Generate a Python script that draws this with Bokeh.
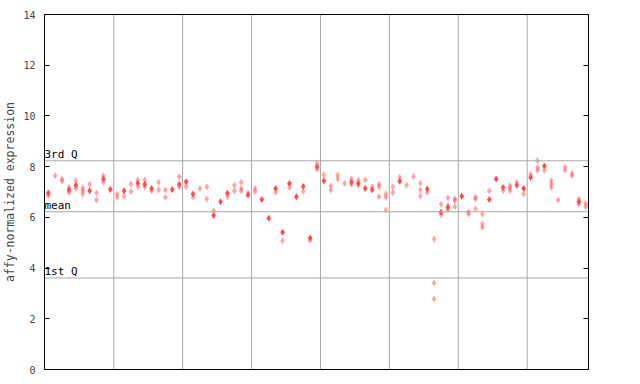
from bokeh.plotting import figure
from bokeh.models import Range1d, LinearAxis, FixedTicker, Span, Label
from bokeh.embed import file_html
from bokeh.resources import INLINE

# Sample index (column) and expression values: solid markers
solid_x = [0, 3, 4, 6, 8, 9, 11, 13, 14, 15, 18, 19, 20, 21, 24, 25, 26, 29, 31, 32,
           33, 34, 35, 36, 37, 38, 39, 40, 44, 45, 46, 47, 51, 55, 57, 58, 60, 64, 65,
           66, 68, 69, 70, 72, 77]
solid_y = [6.96, 7.09, 7.27, 7.05, 7.51, 7.10, 7.05, 7.35, 7.31, 7.14, 7.10, 7.31, 7.40,
           6.92, 6.07, 6.62, 6.95, 6.88, 6.70, 5.96, 7.14, 5.41, 7.34, 6.81, 7.22, 5.19,
           8.00, 7.44, 7.38, 7.35, 7.14, 7.09, 7.42, 7.12, 6.20, 6.39, 6.83, 6.70, 7.51,
           7.18, 7.27, 7.14, 7.57, 8.03, 6.62]

# Light (dithered) markers
light_x = [0, 1, 2, 2, 3, 3, 4, 4, 5, 5, 5, 6, 7, 7, 8, 8, 10, 10, 11, 12, 12, 13, 13,
           14, 14, 15, 16, 16, 17, 17, 19, 19, 20, 21, 22, 23, 23, 24, 26, 27, 27, 28,
           28, 28, 29, 30, 30, 33, 34, 35, 37, 38, 39, 39, 40, 41, 41, 42, 42, 43, 44,
           44, 45, 45, 46, 47, 48, 48, 48, 49, 49, 49, 50, 50, 51, 52, 53, 54, 54, 54,
           55, 56, 56, 56, 57, 57, 58, 58, 58, 59, 59, 59, 61, 61, 62, 62, 62, 63, 63,
           63, 64, 66, 67, 67, 67, 68, 69, 70, 71, 71, 71, 72, 73, 73, 73, 74, 75, 75,
           76, 76, 77, 77, 78, 78]
light_y = [6.85, 7.64, 7.51, 7.42, 7.18, 6.99, 7.44, 7.14, 7.16, 7.05, 6.92, 7.31, 6.96,
           6.68, 7.64, 7.38, 6.92, 6.79, 6.83, 7.31, 7.02, 7.47, 7.21, 7.47, 7.21, 7.05,
           7.38, 7.08, 7.08, 6.79, 7.60, 7.21, 7.21, 6.79, 7.14, 7.21, 6.72, 6.26, 6.81,
           7.27, 7.05, 7.38, 7.14, 7.05, 6.96, 7.14, 7.02, 6.98, 5.08, 7.18, 7.02, 5.10,
           8.13, 7.90, 7.67, 7.25, 7.08, 7.67, 7.51, 7.35, 7.51, 7.31, 7.47, 7.27, 7.47,
           7.21, 7.31, 7.21, 6.81, 6.92, 6.79, 6.29, 7.21, 6.98, 7.57, 7.27, 7.60, 7.35,
           7.08, 6.84, 6.98, 5.15, 3.41, 2.78, 6.52, 6.10, 6.76, 6.46, 6.30, 6.72, 6.66,
           6.42, 6.22, 6.13, 6.79, 6.72, 6.33, 6.13, 5.74, 5.60, 7.05, 7.05, 7.25, 7.16,
           7.05, 7.38, 6.92, 7.70, 8.23, 7.97, 7.86, 7.86, 7.44, 7.31, 7.18, 6.68, 7.99,
           7.86, 7.73, 7.64, 6.72, 6.52, 6.55, 6.42]

# Group separators (between sample groups)
group_breaks = [9.5, 19.5, 29.5, 39.5, 49.5, 59.5, 69.5]

# Reference levels
ref_names = ["3rd Q", "mean", "1st Q"]
ref_values = [8.23, 6.22, 3.61]

y_ticks = [0, 2, 4, 6, 8, 10, 12, 14]

FONT = "DejaVu Sans Mono"
RED = "#ff4d4d"
GRID = "#a8a8a8"

p = figure(width=640, height=384, output_backend="svg", toolbar_location=None,
           x_range=Range1d(-0.55, 78.4), y_range=Range1d(0, 14),
           x_axis_location=None, y_axis_location=None,
           min_border_left=44, min_border_right=52, min_border_top=14,
           min_border_bottom=15)
p.xgrid.visible = False
p.ygrid.visible = False
p.outline_line_color = "black"
p.outline_line_alpha = 1.0
p.outline_line_width = 1
p.background_fill_color = "white"
p.border_fill_color = "white"

left = LinearAxis(ticker=FixedTicker(ticks=y_ticks),
                  axis_label="affy-normalized expression")
left.major_tick_in = 5
left.major_tick_out = 0
left.minor_tick_line_color = None
left.major_label_text_font = FONT
left.major_label_text_font_size = "10px"
left.major_label_standoff = 9
left.axis_label_text_font = FONT
left.axis_label_text_font_size = "11.5px"
left.axis_label_text_font_style = "normal"
left.axis_label_standoff = 3
left.axis_line_color = "black"
p.add_layout(left, "left")

right = LinearAxis(ticker=FixedTicker(ticks=y_ticks))
right.major_tick_in = 5
right.major_tick_out = 0
right.minor_tick_line_color = None
right.major_label_text_font_size = "0px"
right.major_label_text_alpha = 0
right.axis_line_color = "black"
p.add_layout(right, "right")

for xb in group_breaks:
    p.add_layout(Span(location=xb, dimension="height", line_color=GRID, line_width=1))

for name, v in zip(ref_names, ref_values):
    p.add_layout(Span(location=v, dimension="width", line_color=GRID, line_width=1))
    p.add_layout(Label(x=-0.55, y=v, text=name, text_font=FONT, text_font_size="11px",
                       text_baseline="bottom", text_align="left", y_offset=0,
                       text_color="black"))

p.scatter(light_x, light_y, marker="diamond", size=7, fill_color=RED, fill_alpha=0.5,
          line_color=None)
p.scatter(solid_x, solid_y, marker="diamond", size=7, fill_color=RED, fill_alpha=1.0,
          line_color=None)

open("out.html", "w").write(file_html(p, INLINE))
